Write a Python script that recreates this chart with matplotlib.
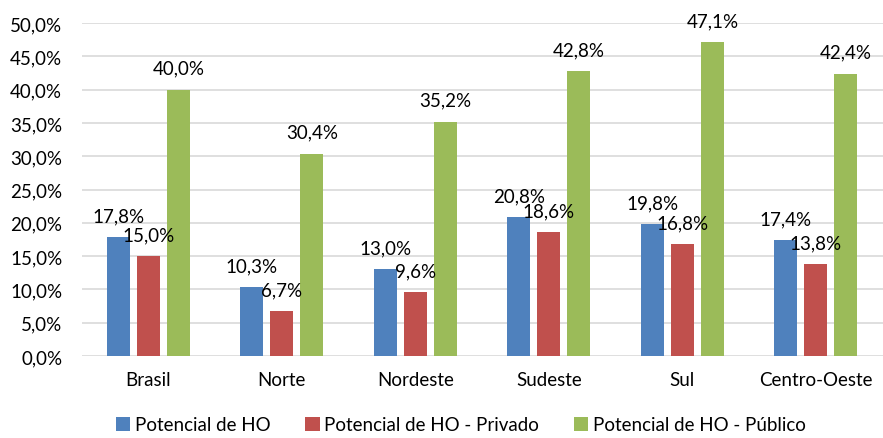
import numpy as np
import matplotlib
matplotlib.use('Agg')
import matplotlib.pyplot as plt

plt.rcParams['font.family'] = ['Lato', 'DejaVu Sans']

regioes = ['Brasil', 'Norte', 'Nordeste', 'Sudeste', 'Sul', 'Centro-Oeste']
potencial_ho = [17.8, 10.3, 13.0, 20.8, 19.8, 17.4]
potencial_privado = [15.0, 6.7, 9.6, 18.6, 16.8, 13.8]
potencial_publico = [40.0, 30.4, 35.2, 42.8, 47.1, 42.4]

series = [
    ('Potencial de HO', potencial_ho, '#4F81BD'),
    ('Potencial de HO - Privado', potencial_privado, '#C0504D'),
    ('Potencial de HO - Público', potencial_publico, '#9BBB59'),
]

fs = 13.5

fig = plt.figure(figsize=(8.83, 4.39), dpi=100)
ax = fig.add_axes([0.0925, 0.187, 0.907, 0.758])

x = np.arange(len(regioes))
width = 0.172
offset = 0.225

for i, (nome, vals, cor) in enumerate(series):
    pos = x + (i - 1) * offset
    bars = ax.bar(pos, vals, width, color=cor, label=nome, zorder=3)
    for b, v in zip(bars, vals):
        ax.annotate(f'{v:.1f}%'.replace('.', ','),
                    (b.get_x() + b.get_width() / 2, v),
                    xytext=(0, 11.5), textcoords='offset points',
                    ha='center', va='baseline', fontsize=fs, color='black', zorder=4)

ax.set_xlim(-0.5, len(regioes) - 0.5)
ax.set_ylim(0, 50)
ax.set_yticks(np.arange(0, 51, 5))
ax.set_yticklabels([f'{t:.1f}%'.replace('.', ',') for t in np.arange(0, 51, 5)])
ax.set_xticks(x)
ax.set_xticklabels(regioes)
ax.tick_params(axis='y', length=0, pad=14, labelsize=fs)
ax.tick_params(axis='x', length=0, pad=11, labelsize=fs)
ax.grid(axis='y', color='#D9D9D9', linewidth=1.2, zorder=0)
for s in ax.spines.values():
    s.set_visible(False)

fig.legend(loc='lower center', bbox_to_anchor=(0.522, -0.028), ncol=3, frameon=False,
           fontsize=fs, handlelength=0.75, handleheight=0.75, handletextpad=0.25,
           columnspacing=1.85)

fig.savefig('out.png', dpi=100)
